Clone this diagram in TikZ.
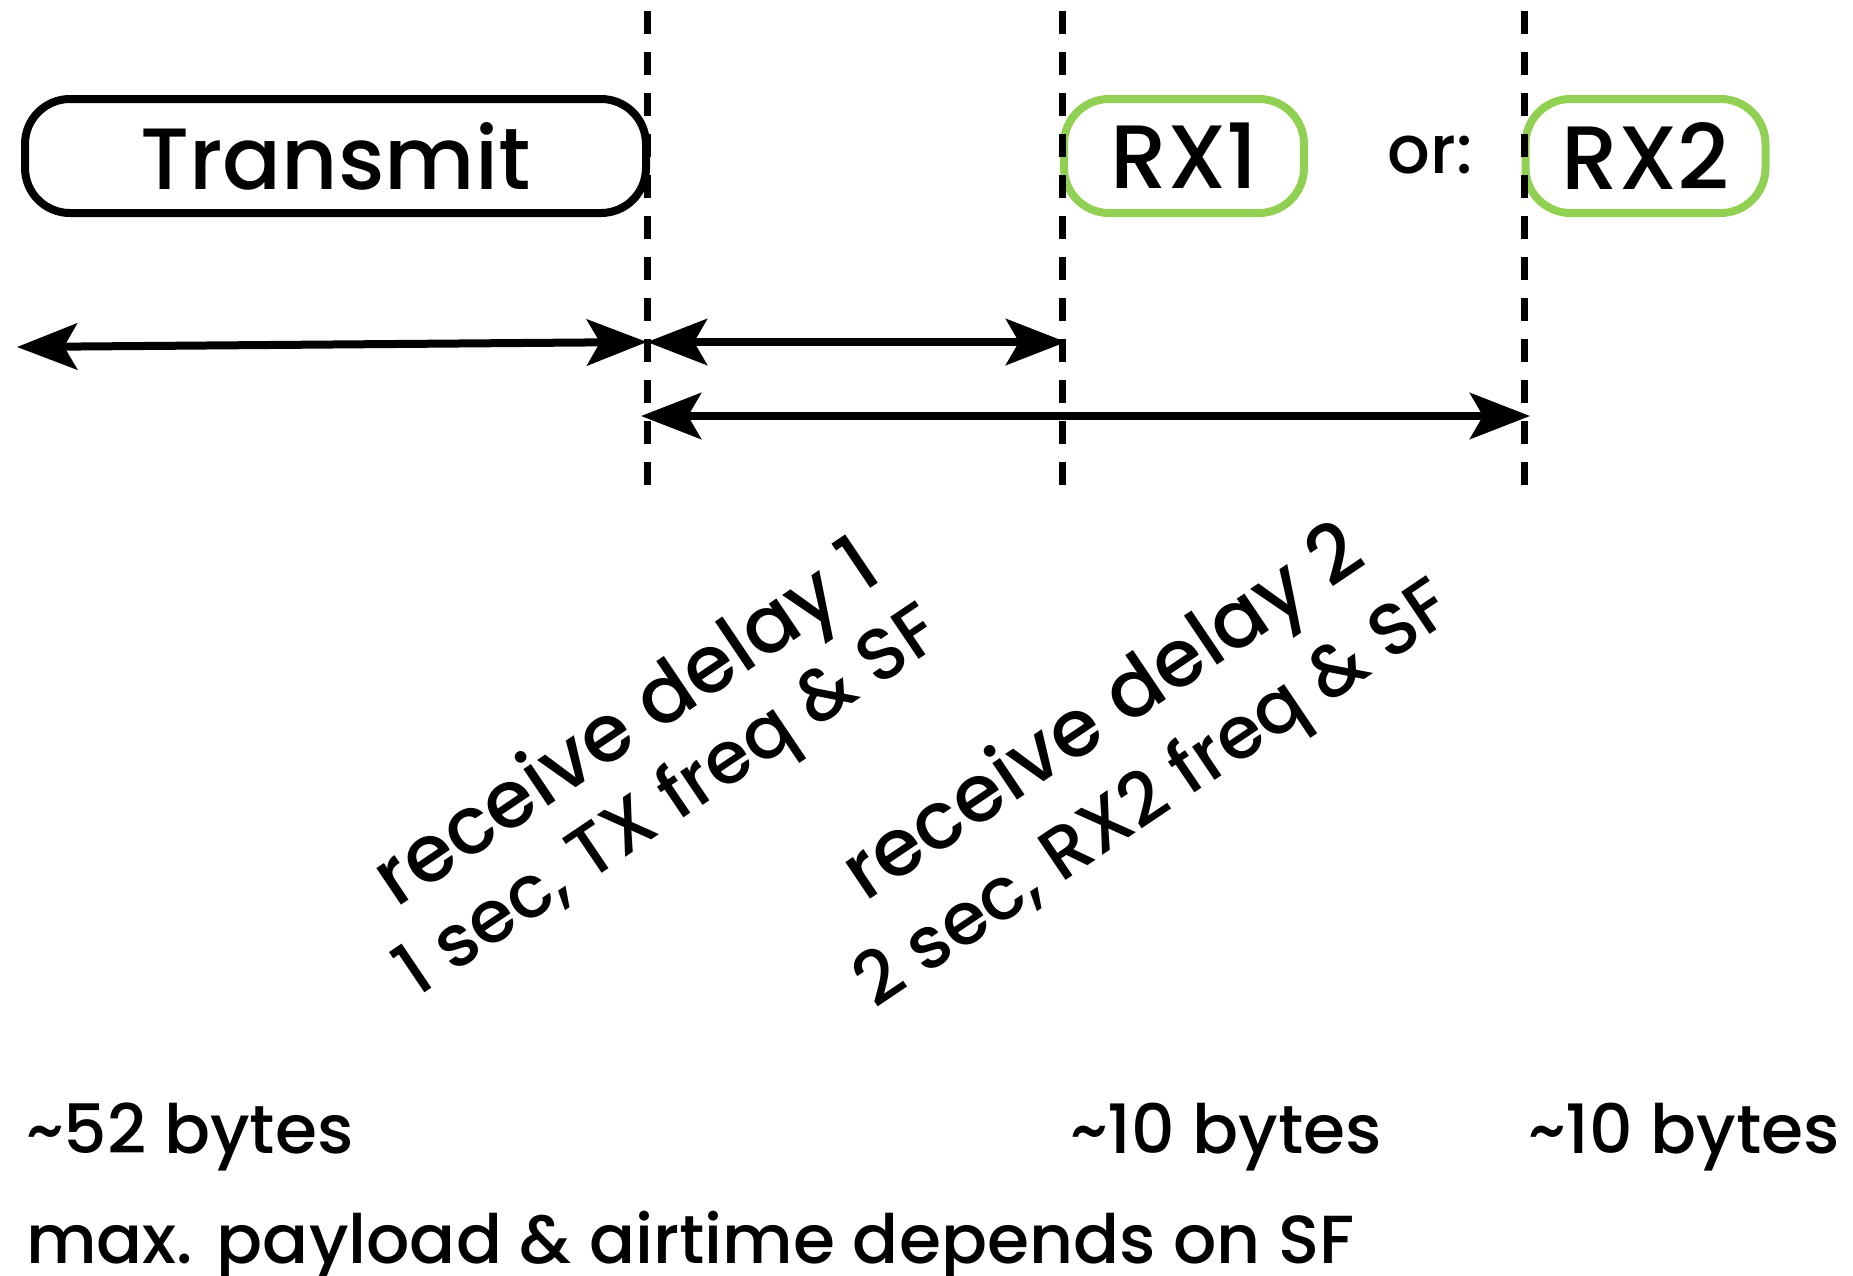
\documentclass[tikz,border=0pt]{standalone}
\usepackage{fontspec}
\setmainfont{Poppins}[UprightFont=* Medium]
\usetikzlibrary{arrows.meta}
\definecolor{rxgreen}{RGB}{146,208,84}
\begin{document}
\begin{tikzpicture}[x=1pt,y=-1pt]
\tikzset{
  stage/.style={draw, line width=8pt, rounded corners=45pt, minimum height=114pt,
    inner sep=0pt, font=\fontsize{87}{110}\selectfont},
  txbox/.style={stage, minimum width=621pt},
  rxbox/.style={stage, draw=rxgreen, minimum width=240pt, font=\fontsize{90}{100}\selectfont},
  marker/.style={line width=7pt, dash pattern=on 23pt off 18pt},
  span/.style={line width=8pt,
    {Stealth[length=60pt,width=46pt,inset=13pt]}-{Stealth[length=60pt,width=46pt,inset=13pt]}},
  delaymain/.style={anchor=base, rotate=34, inner sep=0pt, font=\fontsize{80}{90}\selectfont},
  delaysub/.style={anchor=base, rotate=34, inner sep=0pt, font=\fontsize{73}{80}\selectfont},
  note/.style={anchor=base west, inner sep=0pt, font=\fontsize{68}{80}\selectfont},
}
\useasboundingbox (0,0) rectangle (1853,1275);

% transmit window and the two receive windows
\node[txbox] (tx) at (335.5,156) {Transmit};
\node[rxbox] (rx1) at (1184,156) {RX1};
\node[rxbox] (rx2) at (1645.5,156) {RX2};
\node[anchor=base, inner sep=0pt, font=\fontsize{67}{75}\selectfont] (or) at (1430,173) {or:};

% time markers
\coordinate (m1a) at (647,11);   \coordinate (m1b) at (647,485);
\coordinate (m2a) at (1062,11);  \coordinate (m2b) at (1062,485);
\coordinate (m3a) at (1524,11);  \coordinate (m3b) at (1524,485);
\draw[marker] (m1a) -- (m1b);
\draw[marker] (m2a) -- (m2b);
\draw[marker] (m3a) -- (m3b);

% durations
\coordinate (a1l) at (17,347);
\coordinate (a1r) at (647,342);
\coordinate (a2r) at (1066,342);
\coordinate (a3l) at (641,416);
\coordinate (a3r) at (1530,416);
\draw[span] (a1l) -- (a1r);
\draw[span] (a1r) -- (a2r);
\draw[span] (a3l) -- (a3r);

% delay labels
\node[delaymain] (rd1) at (641,744) {receive delay 1};
\node[delaysub] (rd1s) at (681,820) {1 sec, TX freq \& SF};
\node[delaymain] (rd2) at (1117,733) {receive delay 2};
\node[delaysub] (rd2s) at (1166,813) {2 sec, RX2 freq \& SF};

% payload sizes
\node[note] (b1) at (26,1153) {\textasciitilde52 bytes};
\node[note] (b2) at (1070,1153) {\textasciitilde10 bytes};
\node[note] (b3) at (1528,1153) {\textasciitilde10 bytes};
\node[note] (b4) at (26,1263) {max. payload \& airtime depends on SF};
\end{tikzpicture}
\end{document}
